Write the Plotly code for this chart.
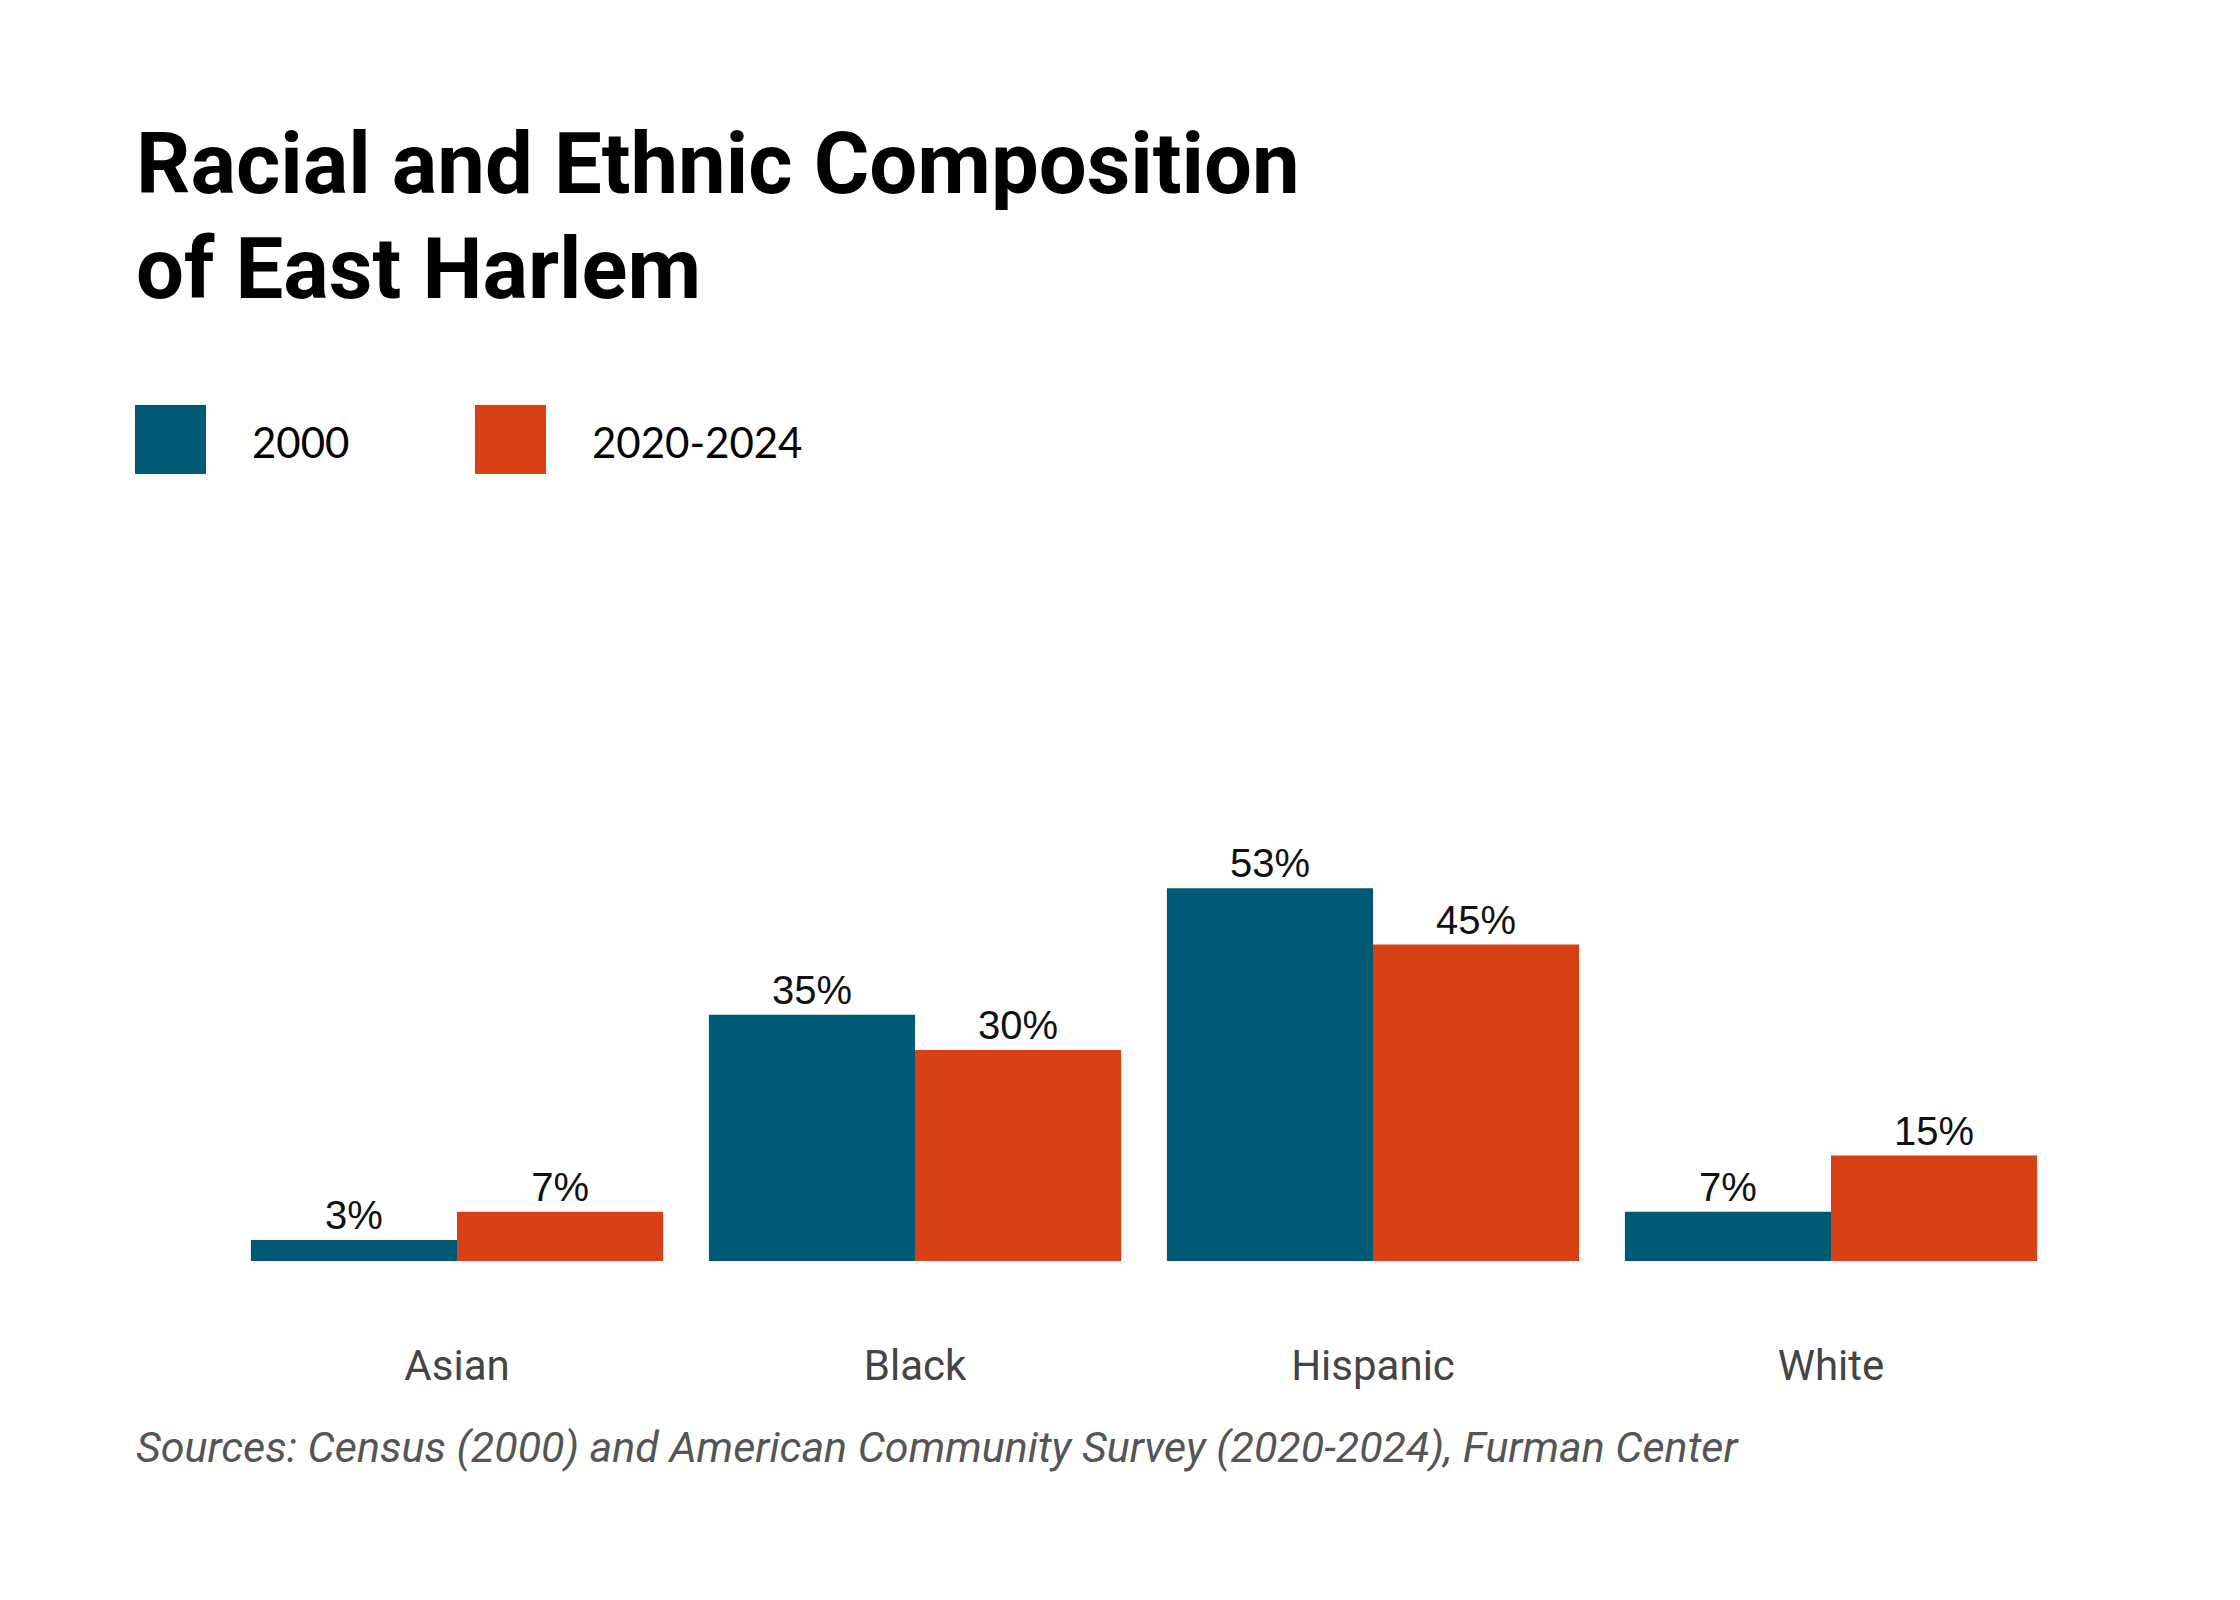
import plotly.graph_objects as go

categories = ["Asian", "Black", "Hispanic", "White"]
series_names = ["2000", "2020-2024"]
values_2000 = [3, 35, 53, 7]
values_2024 = [7, 30, 45, 15]
colors = ["#005a75", "#d84115"]

W, H = 2240, 1600
L, R, T, B = 220, 188, 831, 347
PW, PH = W - L - R, H - T - B

def px(x):
    return (x - L) / PW

def py(y):
    return (H - y - B) / PH

fig = go.Figure()
for name, vals, c in zip(series_names, [values_2000, values_2024], colors):
    fig.add_trace(go.Bar(
        x=categories, y=vals, name=name, marker_color=c, marker_line_width=0,
        text=[f"{v}%" for v in vals], textposition="outside", cliponaxis=False,
        textfont=dict(family="Liberation Sans, Arial", size=40, color="#111"),
        showlegend=False))

fig.update_layout(
    width=W, height=H, paper_bgcolor="white", plot_bgcolor="white",
    margin=dict(l=L, r=R, t=T, b=B),
    barmode="group", bargap=0.1, bargroupgap=0,
    xaxis=dict(showline=False, showgrid=False, ticks="", ticklabelstandoff=76,
               tickfont=dict(family="Roboto", size=42, color="#444")),
    yaxis=dict(range=[0, 60], visible=False),
)

for text, ybot in [("<b>Racial and Ethnic Composition</b>", 208), ("<b>of East Harlem</b>", 313)]:
    fig.add_annotation(xref="paper", yref="paper", xanchor="left", yanchor="bottom",
                       showarrow=False, x=px(126), y=py(ybot), text=text,
                       font=dict(family="Roboto", size=85, color="#000"))

for i, (name, c) in enumerate(zip(series_names, colors)):
    x0 = [127, 467][i]
    tx = [242, 582][i]
    fig.add_shape(type="rect", xref="paper", yref="paper", line_width=0, fillcolor=c,
                  x0=px(x0), x1=px(x0 + 71), y0=py(466), y1=py(397))
    fig.add_annotation(xref="paper", yref="paper", xanchor="left", yanchor="middle",
                       showarrow=False, x=px(tx), y=py(434),
                       text=name, font=dict(family="Lato", size=42, color="#000"))

fig.add_annotation(xref="paper", yref="paper", xanchor="left", yanchor="middle",
                   showarrow=False, x=px(126), y=py(1439),
                   text="<i>Sources: Census (2000) and American Community Survey (2020-2024), Furman Center</i>",
                   font=dict(family="Roboto", size=43, color="#555"))

fig.write_html("out.html")
